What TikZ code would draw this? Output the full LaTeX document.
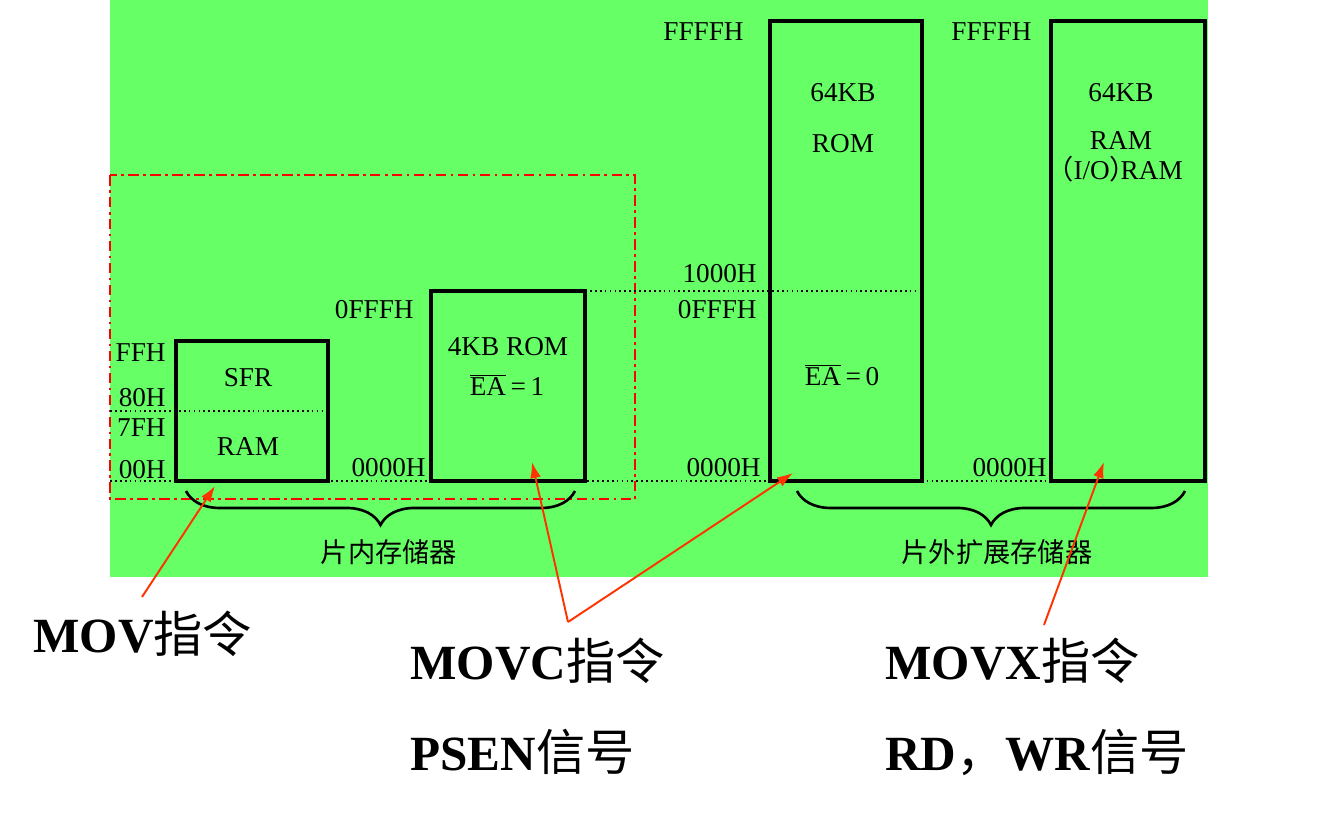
\documentclass[tikz,border=0pt]{standalone}
\usepackage{fontspec}
\setmainfont{Liberation Serif}
\newfontfamily\cjk{Noto Sans CJK SC}
\usetikzlibrary{arrows.meta}
\usetikzlibrary{decorations.pathreplacing}
\definecolor{bggreen}{RGB}{102,255,102}
\definecolor{ptrred}{RGB}{255,51,0}
\tikzset{
 membox/.style={draw=black,line width=1.8pt},
 addr/.style={inner sep=0pt,font=\fontsize{15.5}{18}\selectfont},
 bigtext/.style={inner sep=0pt,font=\fontsize{28}{32}\selectfont\bfseries},
 guide/.style={line width=1pt,dash pattern=on 1pt off 1.8pt},
 chipframe/.style={draw=red,line width=1.1pt,dash pattern=on 6pt off 2.5pt on 1.5pt off 2.5pt},
 pointer/.style={draw=ptrred,line width=1.1pt,-{Latex[length=0.32cm,width=0.22cm]}},
 groupbrace/.style={line width=1.5pt,decorate,decoration={brace,mirror,amplitude=0.68cm}}
}
\begin{document}
\begin{tikzpicture} [x=0.02cm,y=-0.02cm]
 \useasboundingbox (0,0) rectangle (1330,813);
 \fill[white] (0,0) rectangle (1330,813);
 \fill[bggreen] (110,0) rectangle (1208,577);
 % on-chip frame
 \draw[chipframe] (110,175) rectangle (635,499);
 % address guides
 \draw[guide] (110,411) -- (328,411);
 \draw[guide] (110,481) -- (1051,481);
 \draw[guide] (585,291) -- (922,291);
 % memory blocks
 \draw[membox] (176,341) rectangle (328,481);
 \draw[membox] (431,291) rectangle (585,481);
 \draw[membox] (770,21) rectangle (922,481);
 \draw[membox] (1051,21) rectangle (1205,481);
 % internal RAM
 \node (ffh) [addr,anchor=base east] at (166,362) {FFH};
 \node (h80) [addr,anchor=base east] at (166,407) {80H};
 \node (h7f) [addr,anchor=base east] at (166,437) {7FH};
 \node (h00) [addr,anchor=base east] at (166,479) {00H};
 \node (sfr) [addr,anchor=base] at (248,387) {SFR};
 \node (iram) [addr,anchor=base] at (248,456) {RAM};
 % internal ROM
 \node (irtop) [addr,anchor=base east] at (414,319) {0FFFH};
 \node (irbot) [addr,anchor=base east] at (426,477) {0000H};
 \node (irom) [addr,anchor=base] at (508,356) {4KB ROM};
 \node (ea1) [addr,anchor=base] at (507,396) {$\overline{\mbox{EA}}$\,=\,1};
 % external ROM
 \node (xrtop) [addr,anchor=base east] at (744,41) {FFFFH};
 \node (xr1000) [addr,anchor=base east] at (757,283) {1000H};
 \node (xr0fff) [addr,anchor=base east] at (757,319) {0FFFH};
 \node (xrbot) [addr,anchor=base east] at (761,477) {0000H};
 \node (xrsize) [addr,anchor=base] at (843,102) {64KB};
 \node (xrom) [addr,anchor=base] at (843,153) {ROM};
 \node (ea0) [addr,anchor=base] at (842,386) {$\overline{\mbox{EA}}$\,=\,0};
 % external RAM
 \node (xmtop) [addr,anchor=base east] at (1032,41) {FFFFH};
 \node (xmbot) [addr,anchor=base east] at (1047,477) {0000H};
 \node (xmsize) [addr,anchor=base] at (1121,102) {64KB};
 \node (xram) [addr,anchor=base] at (1121,150) {RAM};
 \node (xio) [addr,anchor=base] at (1122,180) {\kern-0.55em{\cjk （}I/O{\cjk ）}\kern-0.6em RAM};
 % braces
 \draw[groupbrace] (186,491) -- (575,491);
 \draw[groupbrace] (797,491) -- (1185,491);
 \node (onchip) [addr,anchor=base] at (389,563) {\cjk 片内存储器};
 \node (offchip) [addr,anchor=base] at (997,563) {\cjk 片外扩展存储器};
 % instructions
 \node (mov) [bigtext,anchor=base west] at (33,653) {MOV{\cjk\mdseries 指令}};
 \node (movc) [bigtext,anchor=base west] at (410,680) {MOVC{\cjk\mdseries 指令}};
 \node (psen) [bigtext,anchor=base west] at (410,771) {PSEN{\cjk\mdseries 信号}};
 \node (movx) [bigtext,anchor=base west] at (885,680) {MOVX{\cjk\mdseries 指令}};
 \node (rdwr) [bigtext,anchor=base west] at (885,771) {RD{\cjk\mdseries ，}WR{\cjk\mdseries 信号}};
 % pointers
 \coordinate (movtail) at (142,597);
 \coordinate (movtip) at (215,486);
 \coordinate (movcfork) at (568,622);
 \coordinate (iromtip) at (532,462);
 \coordinate (xromtip) at (793,473);
 \coordinate (movxtail) at (1044,625);
 \coordinate (xramtip) at (1104,462);
 \draw[pointer] (movtail) -- (movtip);
 \draw[pointer] (movcfork) -- (iromtip);
 \draw[pointer] (movcfork) -- (xromtip);
 \draw[pointer] (movxtail) -- (xramtip);
\end{tikzpicture}
\end{document}
